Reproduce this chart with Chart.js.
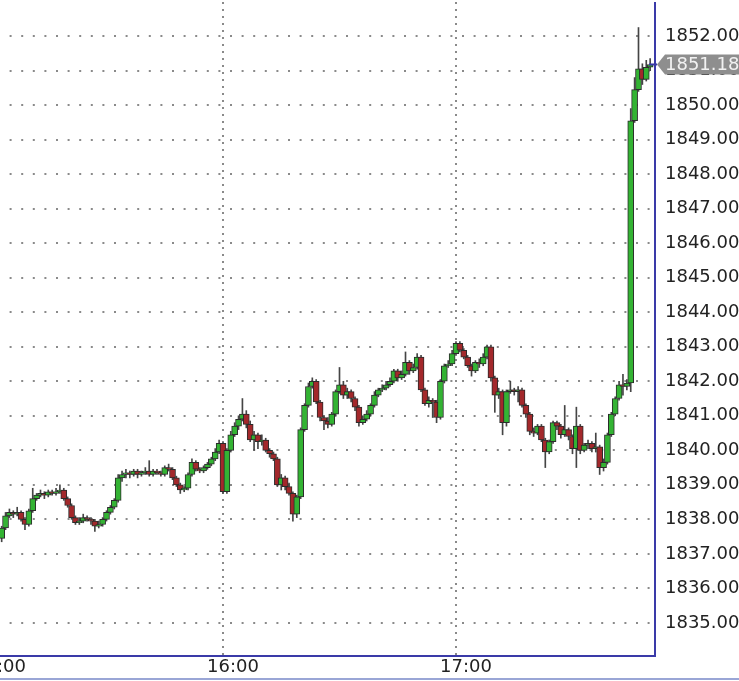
<!DOCTYPE html>
<html>
<head>
<meta charset="utf-8">
<script src="https://cdn.jsdelivr.net/npm/chart.js@4.4.0/dist/chart.umd.min.js"></script>
<style>
  body { margin: 0; background: #fff; }
  #wrap { position: relative; width: 739px; height: 681px; overflow: hidden; background: #fff; }
  #c { position: absolute; left: -60px; top: 2px; }
  #foot { position: absolute; left: 0; top: 678px; width: 739px; height: 2px; background: #9aa6d6; }
</style>
</head>
<body>
<div id="wrap">
  <canvas id="c" width="815" height="681"></canvas>
  <div id="foot"></div>
</div>
<script>
// 1 minute candles, x = minutes after 15:00, first candle 15:03
const firstMinute = 3
const hourTicks = ['15:00', '16:00', '17:00']

const opens = [
 1837.45,1837.75,1838.10,1838.20,1838.15,1838.20,1838.00,1837.85,1838.25,1838.60,
 1838.70,1838.75,1838.70,1838.80,1838.75,1838.80,1838.85,1838.60,1838.40,1838.05,
 1837.90,1837.95,1838.05,1838.00,1837.95,1837.80,1837.85,1838.00,1838.20,1838.35,
 1838.55,1839.20,1839.30,1839.35,1839.30,1839.40,1839.30,1839.35,1839.40,1839.30,
 1839.40,1839.35,1839.30,1839.50,1839.45,1839.20,1839.00,1838.85,1838.90,1839.30,
 1839.65,1839.45,1839.40,1839.50,1839.60,1839.75,1839.95,1840.20,1838.80,1840.00,
 1840.45,1840.70,1840.90,1841.05,1840.75,1840.30,1840.45,1840.25,1840.30,1840.00,
 1839.90,1839.75,1839.00,1839.20,1838.95,1838.75,1838.15,1838.65,1840.60,1841.30,
 1841.85,1842.00,1841.40,1840.95,1840.85,1840.75,1841.05,1841.70,1841.90,1841.60,
 1841.70,1841.50,1841.25,1840.80,1840.90,1841.05,1841.30,1841.60,1841.75,1841.80,
 1841.90,1842.00,1842.30,1842.10,1842.20,1842.55,1842.30,1842.40,1842.70,1841.75,
 1841.35,1841.45,1841.40,1840.95,1842.00,1842.45,1842.50,1842.80,1843.10,1842.90,
 1842.70,1842.45,1842.30,1842.55,1842.50,1842.70,1843.00,1842.10,1841.60,1841.70,
 1840.80,1841.70,1841.75,1841.70,1841.75,1841.30,1841.05,1840.55,1840.50,1840.70,
 1840.30,1839.95,1840.25,1840.80,1840.70,1840.45,1840.60,1840.40,1840.05,1840.70,
 1840.00,1840.15,1840.20,1840.05,1840.10,1839.50,1839.65,1840.45,1841.05,1841.50,
 1841.90,1841.85,1841.95,1849.55,1850.45,1851.05,1850.75,1851.10
]
const highs = [
 1837.80,1838.20,1838.30,1838.25,1838.35,1838.25,1838.05,1838.30,1838.90,1838.75,
 1838.85,1838.80,1838.85,1838.85,1838.90,1839.00,1838.90,1838.65,1838.45,1838.10,
 1838.05,1838.15,1838.10,1838.05,1838.00,1837.95,1838.05,1838.25,1838.40,1838.60,
 1839.30,1839.40,1839.45,1839.40,1839.45,1839.45,1839.40,1839.50,1839.70,1839.45,
 1839.45,1839.40,1839.55,1839.60,1839.50,1839.25,1839.05,1838.95,1839.35,1839.75,
 1839.70,1839.50,1839.55,1839.65,1839.80,1840.05,1840.30,1840.25,1840.05,1840.55,
 1840.80,1841.00,1841.50,1841.15,1840.85,1840.55,1840.50,1840.45,1840.35,1840.05,
 1839.95,1839.80,1839.30,1839.25,1839.05,1838.80,1838.70,1840.65,1841.35,1841.95,
 1842.10,1842.05,1841.45,1841.00,1840.95,1841.10,1841.75,1842.40,1842.00,1841.80,
 1841.75,1841.55,1841.30,1841.00,1841.15,1841.35,1841.70,1841.80,1841.90,1842.00,
 1842.10,1842.35,1842.35,1842.30,1842.85,1842.60,1842.50,1842.80,1842.75,1841.80,
 1841.55,1841.50,1841.45,1842.05,1842.50,1842.60,1842.90,1843.15,1843.15,1842.95,
 1842.75,1842.50,1842.60,1842.65,1842.80,1843.05,1843.05,1842.15,1841.80,1841.75,
 1841.75,1842.00,1841.80,1841.85,1841.80,1841.35,1841.10,1840.65,1840.75,1840.75,
 1840.35,1840.30,1840.85,1840.85,1840.75,1841.30,1840.65,1840.45,1841.25,1840.75,
 1840.20,1840.30,1840.25,1840.50,1840.15,1839.75,1840.50,1841.10,1841.55,1842.00,
 1842.20,1842.05,1849.90,1850.80,1852.25,1851.20,1851.30,1851.35
]
const lows = [
 1837.35,1837.70,1838.05,1838.05,1838.10,1837.95,1837.70,1837.80,1838.20,1838.55,
 1838.65,1838.60,1838.65,1838.70,1838.70,1838.75,1838.55,1838.35,1838.00,1837.85,
 1837.85,1837.90,1837.95,1837.85,1837.65,1837.75,1837.80,1837.95,1838.15,1838.30,
 1838.50,1839.10,1839.20,1839.20,1839.25,1839.20,1839.25,1839.30,1839.25,1839.25,
 1839.30,1839.25,1839.25,1839.40,1839.15,1838.95,1838.75,1838.80,1838.85,1839.25,
 1839.40,1839.35,1839.35,1839.45,1839.55,1839.70,1839.90,1838.75,1838.75,1839.95,
 1840.40,1840.60,1840.85,1840.65,1840.25,1840.00,1840.05,1840.15,1839.95,1839.80,
 1839.70,1838.95,1838.85,1838.85,1838.70,1837.95,1838.05,1838.60,1840.55,1841.25,
 1841.80,1841.35,1840.85,1840.60,1840.65,1840.70,1841.00,1841.65,1841.50,1841.50,
 1841.40,1841.15,1840.70,1840.75,1840.85,1841.00,1841.25,1841.55,1841.70,1841.75,
 1841.85,1841.95,1842.00,1842.05,1842.15,1842.20,1842.25,1842.35,1841.70,1841.30,
 1841.25,1840.95,1840.80,1840.90,1841.95,1842.40,1842.45,1842.75,1842.85,1842.65,
 1842.40,1842.15,1842.25,1842.40,1842.45,1842.65,1842.00,1841.10,1841.50,1840.45,
 1840.70,1841.65,1841.60,1841.40,1841.25,1840.95,1840.45,1840.40,1840.45,1840.25,
 1839.50,1839.90,1840.20,1840.60,1840.35,1840.40,1840.30,1839.90,1839.50,1839.90,
 1839.95,1840.05,1839.95,1839.95,1839.30,1839.40,1839.60,1840.40,1841.00,1841.45,
 1841.60,1841.75,1841.70,1849.50,1850.40,1850.60,1850.70,1851.00
]
const closes = [
 1837.75,1838.10,1838.20,1838.15,1838.20,1838.00,1837.85,1838.25,1838.60,1838.70,
 1838.75,1838.70,1838.80,1838.75,1838.80,1838.85,1838.60,1838.40,1838.05,1837.90,
 1837.95,1838.05,1838.00,1837.95,1837.80,1837.85,1838.00,1838.20,1838.35,1838.55,
 1839.20,1839.30,1839.35,1839.30,1839.40,1839.30,1839.35,1839.40,1839.30,1839.40,
 1839.35,1839.30,1839.50,1839.45,1839.20,1839.00,1838.85,1838.90,1839.30,1839.65,
 1839.45,1839.40,1839.50,1839.60,1839.75,1839.95,1840.20,1838.80,1840.00,1840.45,
 1840.70,1840.90,1841.05,1840.75,1840.30,1840.45,1840.25,1840.30,1840.00,1839.90,
 1839.75,1839.00,1839.20,1838.95,1838.75,1838.15,1838.65,1840.60,1841.30,1841.85,
 1842.00,1841.40,1840.95,1840.85,1840.75,1841.05,1841.70,1841.90,1841.60,1841.70,
 1841.50,1841.25,1840.80,1840.90,1841.05,1841.30,1841.60,1841.75,1841.80,1841.90,
 1842.00,1842.30,1842.10,1842.20,1842.55,1842.30,1842.40,1842.70,1841.75,1841.35,
 1841.45,1841.40,1840.95,1842.00,1842.45,1842.50,1842.80,1843.10,1842.90,1842.70,
 1842.45,1842.30,1842.55,1842.50,1842.70,1843.00,1842.10,1841.60,1841.70,1840.80,
 1841.70,1841.75,1841.70,1841.75,1841.30,1841.05,1840.55,1840.50,1840.70,1840.30,
 1839.95,1840.25,1840.80,1840.70,1840.45,1840.60,1840.40,1840.05,1840.70,1840.00,
 1840.15,1840.20,1840.05,1840.10,1839.50,1839.65,1840.45,1841.05,1841.50,1841.90,
 1841.85,1841.95,1849.55,1850.45,1851.05,1850.75,1851.10,1851.18
]

const upColor = '#33b333'
const downColor = '#a3282b'
const frameColor = '#3a3aa8'

let bodies = []
let wicks = []
let colors = []
for (let i = 0; i < closes.length; i++) {
  const m = firstMinute + i
  bodies.push({x: m, y: [opens[i], closes[i]]})
  wicks.push({x: m, y: [lows[i], highs[i]]})
  colors.push(closes[i] >= opens[i] ? upColor : downColor)
}

// grey tag with the last price on the right axis
const lastPriceTag = {
  id: 'lastPriceTag',
  afterDraw(chart) {
    const ctx = chart.ctx
    const y = chart.scales.y.getPixelForValue(closes[closes.length - 1])
    const x0 = chart.chartArea.right
    ctx.save()
    ctx.strokeStyle = frameColor
    ctx.lineWidth = 2
    ctx.beginPath()
    ctx.moveTo(x0 - 6, y)
    ctx.lineTo(x0 + 2, y)
    ctx.stroke()
    ctx.fillStyle = '#8e8e8e'
    ctx.beginPath()
    ctx.moveTo(x0 + 2, y)
    ctx.lineTo(x0 + 10, y - 10)
    ctx.lineTo(x0 + 100, y - 10)
    ctx.lineTo(x0 + 100, y + 10)
    ctx.lineTo(x0 + 10, y + 10)
    ctx.closePath()
    ctx.fill()
    ctx.fillStyle = '#f2f2f2'
    ctx.font = '18px "DejaVu Sans"'
    ctx.textBaseline = 'middle'
    ctx.fillText(closes[closes.length - 1].toFixed(2), x0 + 10, y + 1)
    ctx.restore()
  }
}

const ctx = document.getElementById('c')
new Chart(ctx, {
  type: 'bar',
  data: {
    datasets: [{
      label: 'body',
      data: bodies,
      backgroundColor: colors,
      borderColor: '#2b2b2b',
      borderWidth: 1,
      borderSkipped: false,
      barThickness: 6,
      minBarLength: 1,
      grouped: false
    }, {
      label: 'wick',
      data: wicks,
      backgroundColor: '#454545',
      borderWidth: 0,
      barThickness: 1,
      grouped: false
    }]
  },
  options: {
    responsive: false,
    animation: false,
    devicePixelRatio: 1,
    layout: { padding: 0 },
    plugins: { legend: { display: false }, tooltip: { enabled: false } },
    scales: {
      x: {
        type: 'linear',
        offset: false,
        min: -12.88,
        max: 171.25,
        afterFit: (s) => { s.height = 27; s.paddingLeft = 0; s.paddingRight = 0 },
        ticks: {
          stepSize: 60,
          includeBounds: false,
          autoSkip: false,
          maxRotation: 0,
          labelOffset: 10,
          padding: 1,
          color: '#222',
          font: { family: 'DejaVu Sans', size: 18 },
          callback: (v) => hourTicks[Math.round(v / 60)]
        },
        grid: { offset: false, color: '#8a8a8a', lineWidth: 2, drawTicks: false },
        border: { color: frameColor, width: 2, dash: [2, 5] }
      },
      y: {
        position: 'right',
        min: 1834.04,
        max: 1852.99,
        afterFit: (s) => { s.width = 100; s.paddingTop = 0; s.paddingBottom = 0 },
        ticks: {
          stepSize: 1,
          includeBounds: false,
          padding: 10,
          color: '#222',
          font: { family: 'DejaVu Sans', size: 18 },
          callback: (v) => v.toFixed(2)
        },
        grid: { color: '#8a8a8a', lineWidth: 2, drawTicks: false },
        border: { color: frameColor, width: 2, dash: [2, 9.6] }
      }
    }
  },
  plugins: [lastPriceTag]
})
</script>
</body>
</html>
